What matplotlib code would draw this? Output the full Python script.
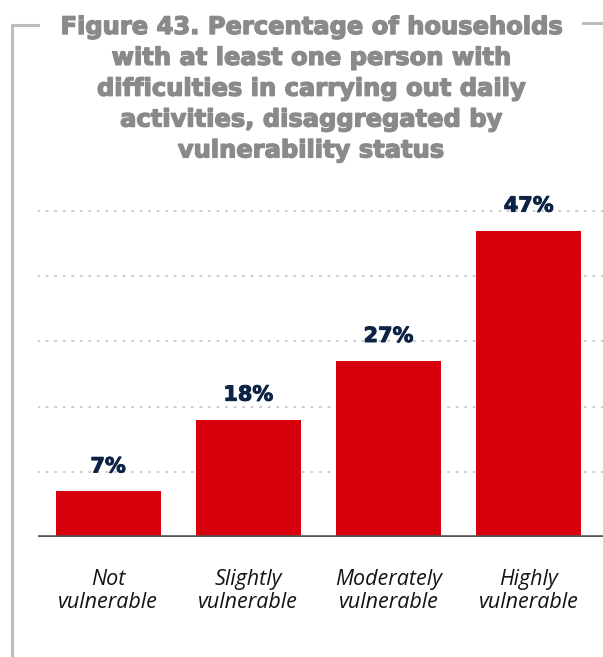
import matplotlib

matplotlib.use("Agg")
import matplotlib.pyplot as plt
import matplotlib.patheffects as pe
from matplotlib.lines import Line2D

# data
categories = ["Not\nvulnerable", "Slightly\nvulnerable", "Moderately\nvulnerable", "Highly\nvulnerable"]
values = [7, 18, 27, 47]
value_labels = ["7%", "18%", "27%", "47%"]
grid_levels = [10, 20, 30, 40, 50]

title = (
    "Figure 43. Percentage of households\n"
    "with at least one person with\n"
    "difficulties in carrying out daily\n"
    "activities, disaggregated by\n"
    "vulnerability status"
)

BAR_RED = "#d9000d"
NAVY = "#0d2345"
TITLE_GREY = "#8a8a8a"
FRAME_GREY = "#bdbdbd"

W, H = 603, 657
fig = plt.figure(figsize=(W / 100, H / 100), dpi=100)

# axes placed in pixel terms: baseline at y=537, left at x=38, top ~ y=198
ax_left, ax_right = 38 / W, 1.0
ax_bottom = (H - 537) / H
ax_top = (H - 198) / H
ax = fig.add_axes([ax_left, ax_bottom, ax_right - ax_left, ax_top - ax_bottom])

x = list(range(len(categories)))
ax.bar(x, values, width=0.75, color=BAR_RED, zorder=3)

for lvl in grid_levels:
    ax.axhline(lvl, color="#cccccc", lw=1.5, ls=(0, (0.5, 3.6)), zorder=1,
               dash_capstyle="round")
ax.axhline(0, color="#555555", lw=2.6, zorder=4)

for xi, v, lab in zip(x, values, value_labels):
    ax.text(xi, v + 2.3, lab, ha="center", va="bottom", fontsize=15,
            fontweight="bold", color=NAVY, family="DejaVu Sans",
            path_effects=[pe.withStroke(linewidth=0.7, foreground=NAVY)])

ax.set_xlim(-0.5, 3.53)
ax.set_ylim(0, 52)
ax.set_xticks(x)
ax.set_xticklabels(categories, fontsize=15.5, style="italic", family="Open Sans",
                   color="#141414", linespacing=1.1)
ax.tick_params(axis="x", length=0, pad=23)
ax.set_yticks([])
for s in ax.spines.values():
    s.set_visible(False)

# title, thickened a little to look like the heavy face of the original
fig.text(0.515, 1 - 15 / H, title, ha="center", va="top", fontsize=17.4,
         fontweight="bold", color=TITLE_GREY, family="DejaVu Sans",
         linespacing=1.36,
         path_effects=[pe.withStroke(linewidth=1.0, foreground=TITLE_GREY)])

# frame lines around the figure
fig.add_artist(Line2D([12 / W, 12 / W], [1 - 25 / H, 0], transform=fig.transFigure,
                      color=FRAME_GREY, lw=2.2))
fig.add_artist(Line2D([12 / W, 38 / W], [1 - 25 / H, 1 - 25 / H],
                      transform=fig.transFigure, color=FRAME_GREY, lw=2.2))
fig.add_artist(Line2D([583 / W, 1.0], [1 - 23 / H, 1 - 23 / H],
                      transform=fig.transFigure, color=FRAME_GREY, lw=2.2))

fig.savefig("out.png", dpi=100)
